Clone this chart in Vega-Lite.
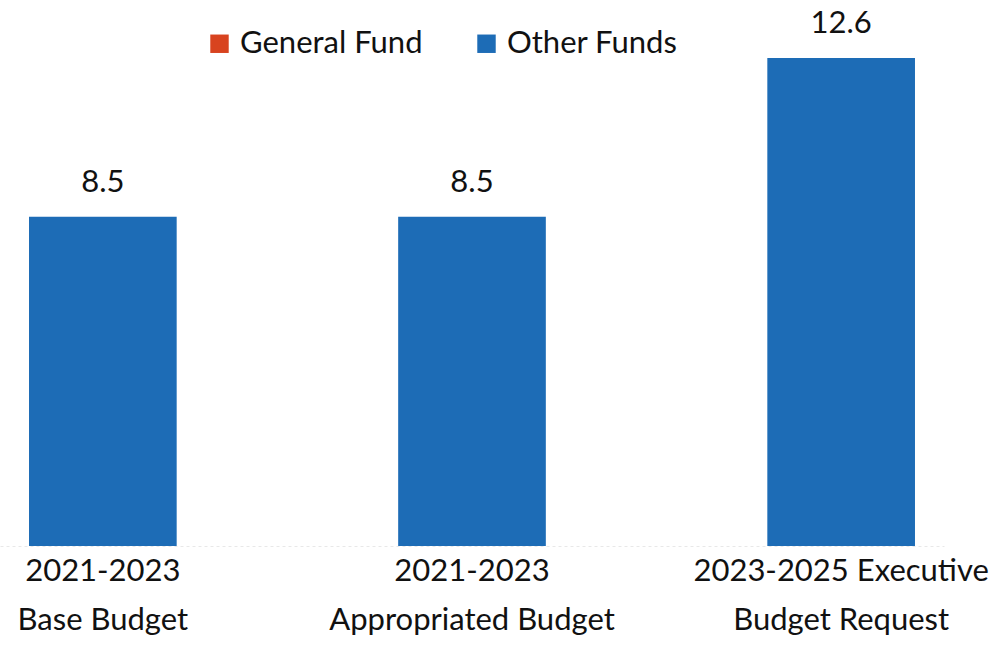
{
  "$schema": "https://vega.github.io/schema/vega-lite/v6.json",
  "width": 944,
  "height": 546,
  "autosize": {"type": "none"},
  "padding": {"left": 0, "top": 0, "right": 55, "bottom": 101},
  "background": "white",
  "config": {"view": {"stroke": null}, "font": "Lato"},
  "data": {"values": [
    {"category": "2021-2023|Base Budget", "fund": "Other Funds", "value": 8.5},
    {"category": "2021-2023|Appropriated Budget", "fund": "Other Funds", "value": 8.5},
    {"category": "2023-2025 Executive|Budget Request", "fund": "Other Funds", "value": 12.6}
  ]},
  "encoding": {
    "x": {"field": "category", "type": "nominal", "sort": null,
      "scale": {"paddingInner": 0.6, "paddingOuter": 0.0786},
      "axis": {"title": null, "labelAngle": 0, "labelExpr": "split(datum.label, '|')",
        "labelFontSize": 31, "labelColor": "#111", "labelLineHeight": 49,
        "labelBaseline": "top", "labelPadding": 10, "ticks": false, "labelLimit": 400, "labelOverlap": false,
        "domain": true, "domainColor": "#e8e8e8", "domainDash": [3, 3], "labelFont": "Lato"}},
    "y": {"field": "value", "type": "quantitative", "stack": null,
      "scale": {"domain": [0, 14.1], "nice": false},
      "axis": null}
  },
  "layer": [
    {"mark": {"type": "bar"},
     "encoding": {"color": {"field": "fund", "type": "nominal",
       "scale": {"domain": ["General Fund", "Other Funds"], "range": ["#d8431f", "#1d6cb6"]},
       "legend": {"title": null, "orient": "none", "direction": "horizontal", "legendX": 204, "legendY": 28,
         "symbolType": "square", "symbolSize": 340, "symbolStrokeWidth": 0, "labelFontSize": 31, "labelColor": "#111",
         "labelFont": "Lato", "columnPadding": 48, "labelOffset": 5, "labelLimit": 300}}}},
    {"mark": {"type": "text", "baseline": "bottom", "dy": -18, "fontSize": 31, "color": "#111", "font": "Lato"},
     "encoding": {"text": {"field": "value", "type": "quantitative", "format": ".1f"}}}
  ]
}
